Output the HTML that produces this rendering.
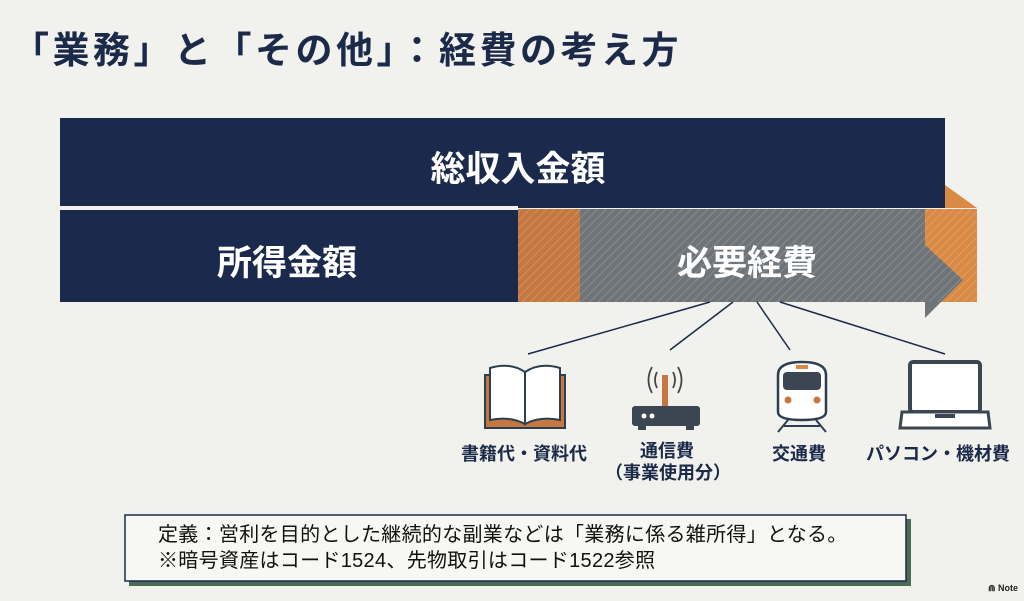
<!DOCTYPE html>
<html><head><meta charset="utf-8"><style>
body{margin:0;width:1024px;height:601px;background:#f1f2ee;overflow:hidden;position:relative;font-family:"Liberation Sans","Noto Sans CJK JP",sans-serif;color:#1b2a49}
.t{position:absolute;white-space:nowrap;font-weight:700}
</style></head><body>
<div class="t" style="left:12px;top:20px;font-size:37px;color:#1b2a49;letter-spacing:3.5px">「業務」と「その他」：経費の考え方</div>
<svg width="1024" height="601" style="position:absolute;left:0;top:0">
<defs>
<pattern id="h" width="6" height="6" patternUnits="userSpaceOnUse" patternTransform="rotate(45)"><line x1="0" y1="0" x2="0" y2="6" stroke="#fff" stroke-opacity=".18" stroke-width="2"/></pattern>
</defs>
<rect x="60" y="118" width="885" height="90" fill="#1b2a4c"/>
<polygon points="945,185 977,208 945,208" fill="#d98a44"/>
<polygon points="940,185 945,185 945,208 940,208" fill="#1b2a4c"/>
<rect x="60" y="206" width="458" height="3" fill="#f1f2ee"/>
<rect x="60" y="210" width="458" height="92" fill="#1b2a4c"/>
<rect x="518" y="209" width="62" height="93" fill="#c4773f"/>
<rect x="518" y="209" width="62" height="93" fill="url(#h)"/>
<rect x="925" y="209" width="52" height="93" fill="#d98a44"/>
<polygon points="580,209 925,209 925,245 963,280 925,318 925,302 580,302" fill="#6e7478"/>
<rect x="580" y="209" width="397" height="93" fill="url(#h)"/>
<g stroke="#1b2a49" stroke-width="1.5">
<line x1="710" y1="302" x2="528" y2="354"/><line x1="733" y1="302" x2="670" y2="350"/>
<line x1="757" y1="302" x2="790" y2="350"/><line x1="780" y1="302" x2="945" y2="354"/>
</g>
<path d="M485 375 L485 428 L525 428 L565 428 L565 375 Z" fill="#c4773f" stroke="#2c3e50" stroke-width="2"/>
<path d="M490 368 Q510 362 525 372 L525 424 Q510 416 490 420 Z" fill="#fff" stroke="#2c3e50" stroke-width="2"/>
<path d="M560 368 Q540 362 525 372 L525 424 Q540 416 560 420 Z" fill="#fff" stroke="#2c3e50" stroke-width="2"/>
<rect x="662" y="375" width="6" height="32" fill="#c4773f"/>
<g fill="none" stroke="#444" stroke-width="1.8"><path d="M657 372 Q653 380 657 388"/><path d="M652 367 Q645 380 652 393"/><path d="M673 372 Q677 380 673 388"/><path d="M678 367 Q685 380 678 393"/></g>
<rect x="632" y="406" width="68" height="20" rx="3" fill="#3b4652"/>
<circle cx="644" cy="416" r="2.5" fill="#fff"/><circle cx="652" cy="416" r="2.5" fill="#fff"/>
<rect x="638" y="426" width="8" height="4" fill="#3b4652"/><rect x="686" y="426" width="8" height="4" fill="#3b4652"/>
<path d="M778 375 Q778 362 802 362 Q826 362 826 375 L826 412 Q826 420 802 420 Q778 420 778 412 Z" fill="#fff" stroke="#2c3e50" stroke-width="2.5"/>
<rect x="783" y="372" width="38" height="18" rx="4" fill="#3b4652"/>
<rect x="796" y="365" width="12" height="4" fill="#d98a44"/>
<circle cx="788" cy="400" r="3.5" fill="#c4773f"/><circle cx="817" cy="400" r="3.5" fill="#c4773f"/>
<g stroke="#2c3e50" stroke-width="2"><line x1="788" y1="420" x2="778" y2="432"/><line x1="816" y1="420" x2="826" y2="432"/><line x1="784" y1="426" x2="820" y2="426"/></g>
<rect x="910" y="362" width="70" height="50" rx="3" fill="#fff" stroke="#3b4652" stroke-width="4"/>
<path d="M902 412 L988 412 L990 428 L900 428 Z" fill="#fff" stroke="#3b4652" stroke-width="3"/>
<rect x="935" y="414" width="20" height="4" fill="#3b4652"/>
<rect x="129" y="519" width="782" height="67" fill="#4a6b55"/>
<rect x="125" y="515" width="781" height="66" fill="#f7f7f4" stroke="#1b2a49" stroke-width="1.5"/>
</svg>
<div class="t" style="left:0;width:1036px;text-align:center;top:141px;font-size:35px;color:#fff">総収入金額</div>
<div class="t" style="left:217px;top:235px;font-size:35px;color:#fff">所得金額</div>
<div class="t" style="left:677px;top:235px;font-size:35px;color:#fff">必要経費</div>
<div class="t" style="left:461px;top:440px;font-size:18px">書籍代・資料代</div>
<div class="t" style="left:605px;top:440px;font-size:18px;text-align:center;width:124px;line-height:22px">通信費<br>（事業使用分）</div>
<div class="t" style="left:772px;top:440px;font-size:18px">交通費</div>
<div class="t" style="left:866px;top:440px;font-size:18px">パソコン・機材費</div>
<div class="t" style="left:158px;top:522px;font-size:20px;font-weight:400;line-height:26px;color:#111;letter-spacing:0.3px">定義：営利を目的とした継続的な副業などは「業務に係る雑所得」となる。<br>※暗号資産はコード1524、先物取引はコード1522参照</div>
<div class="t" style="left:988px;top:583px;font-size:9px;color:#222">⋒ Note</div>
</body></html>
